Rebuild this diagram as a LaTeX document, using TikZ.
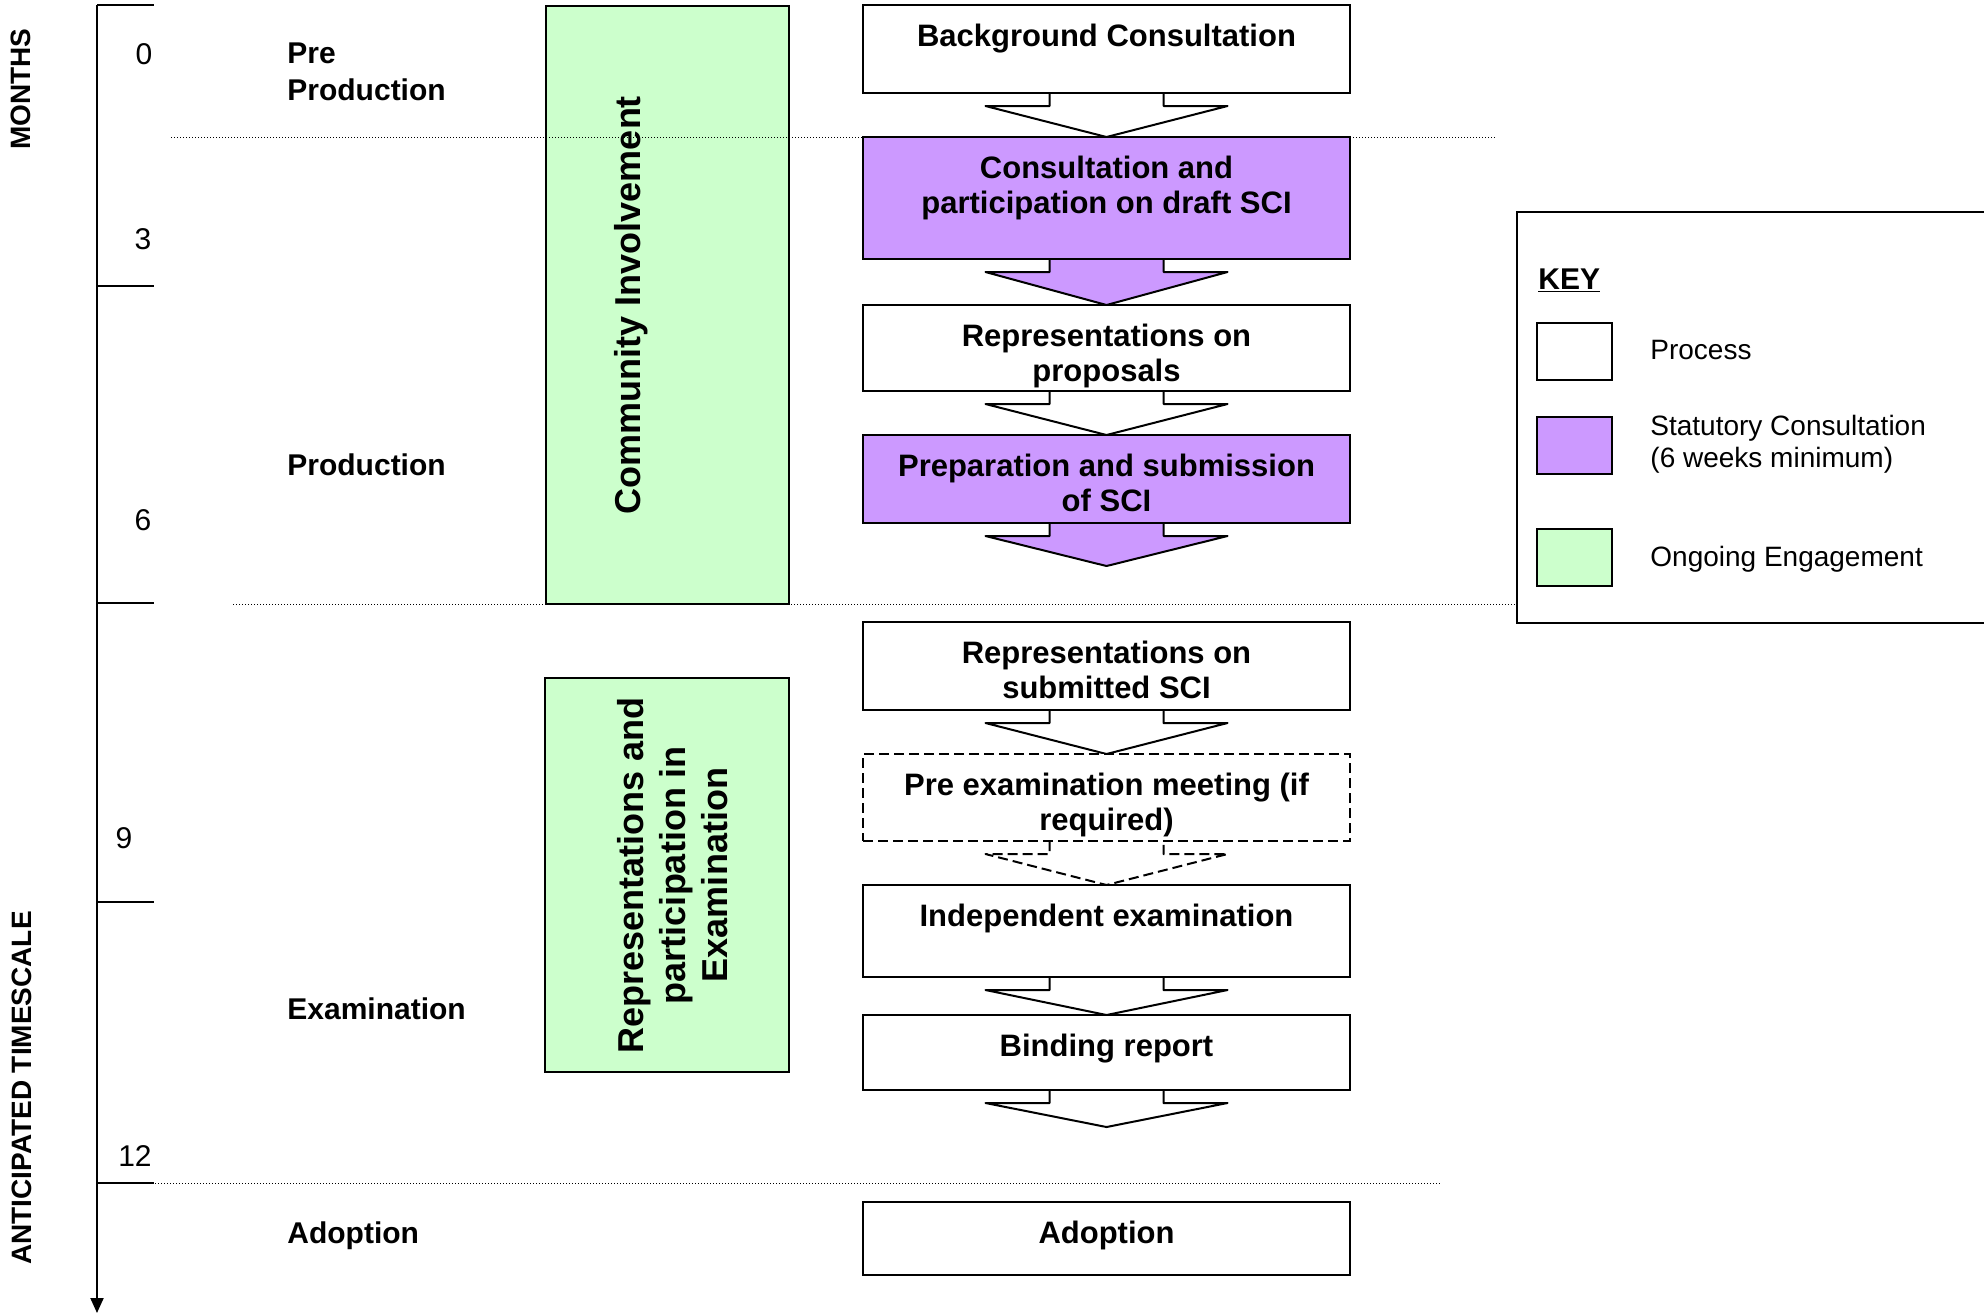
\documentclass[tikz,border=0pt]{standalone}
\usepackage{fontspec}
\setmainfont{Liberation Sans}
\usepackage{tikz}
\usetikzlibrary{positioning, calc, arrows.meta, backgrounds}
\definecolor{statpurple}{HTML}{CC99FF}
\definecolor{engreen}{HTML}{CCFFCC}
\tikzset{
	>={Triangle[width=6.5pt,length=7.5pt]}, % punta del eje de tiempo
	stage/.style={draw, line width=1pt, fill=white, minimum width=243.5pt, inner sep=0pt, outer sep=0pt}, % cajas del proceso
	stagetext/.style={anchor=north, inner sep=0pt, align=center, font=\fontsize{15.5}{17.5}\selectfont\bfseries}, % texto de las cajas
	arrowshape/.style={draw, line width=1pt, fill=white, line join=round}, % flechas gruesas entre cajas
	dashedstage/.style={dash pattern=on 5pt off 2.5pt}, % caja opcional
	engage/.style={draw, line width=1pt, fill=engreen, inner sep=0pt}, % participacion continua
	engtext/.style={rotate=90, inner sep=0pt, align=center, font=\fontsize{18}{21}\selectfont\bfseries},
	phase/.style={anchor=base west, inner sep=0pt, align=left, font=\fontsize{15}{18.5}\selectfont\bfseries}, % etapas
	month/.style={inner sep=0pt, font=\fontsize{15}{18}\selectfont}, % meses
	axistext/.style={rotate=90, inner sep=0pt, font=\fontsize{14}{16}\selectfont\bfseries},
	axisline/.style={line width=1pt},
	sepline/.style={line width=0.5pt, dash pattern=on 0.5pt off 1pt}, % lineas punteadas
	keyswatch/.style={draw, line width=1pt, fill=white, minimum width=37.5pt, minimum height=28.5pt, inner sep=0pt},
	keytext/.style={anchor=west, inner sep=0pt, align=left, font=\fontsize{14}{16}\selectfont}
}
\newcommand{\stagearrow}[3][]{%
	\begin{pgfonlayer}{background}
	\path[arrowshape, #1] ($(#2.south)+(-57,0)$) -- ++(0,13) -- ++(-64,0) -- (#3)
		-- ($(#2.south)+(121,13)$) -- ++(-64,0) -- ++(0,-13);
	\end{pgfonlayer}}

\begin{document}
\begin{tikzpicture}[x=0.5pt, y=-0.5pt]
	\useasboundingbox (0,0) rectangle (1984,1314);
	\node[engage, minimum width=121.5pt, minimum height=299pt] (community) at (667.5,305) {};
	\node[engtext] (community-t) at (631,305) {Community Involvement};
	\node[engage, minimum width=122pt, minimum height=197pt] (repexam) at (667,875) {};
	\node[engtext] (repexam-t) at (673,875) {Representations and\\participation in\\Examination};

	\draw[sepline] (171,137) -- (1497,137);
	\draw[sepline] (233,604) -- (1518,604);
	\draw[sepline] (155,1183) -- (1442,1183);

	\draw[axisline, ->] (97,5) -- (97,1313);
	\draw[axisline] (97,5) -- (154,5) (97,286) -- (154,286) (97,603) -- (154,603)
		(97,902) -- (154,902) (97,1183) -- (154,1183);
	\node[month] (m0) at (144,54) {0};
	\node[month] (m3) at (143,239) {3};
	\node[month] (m6) at (143,520) {6};
	\node[month] (m9) at (124,838) {9};
	\node[month] (m12) at (135,1156) {12};
	\node[axistext] (months) at (21,89) {MONTHS};
	\node[axistext] (timescale) at (22,1088) {ANTICIPATED TIMESCALE};

	\node[phase, anchor=north west] (ph-pre) at (287,42) {Pre\\Production};
	\node[phase] (ph-prod) at (287,475) {Production};
	\node[phase] (ph-exam) at (287,1019) {Examination};
	\node[phase] (ph-adopt) at (287,1243) {Adoption};

	\node[stage, minimum height=44pt, anchor=north] (bg) at (1106.5,5) {};
	\node[stage, fill=statpurple, minimum height=61pt, below=22pt of bg] (cons) {};
	\node[stage, minimum height=43pt, below=23pt of cons] (repprop) {};
	\node[stage, fill=statpurple, minimum height=44pt, below=22pt of repprop] (prep) {};
	\node[stage, minimum height=44pt, below=49.5pt of prep] (repsub) {};
	\node[stage, dashedstage, minimum height=43.5pt, below=22pt of repsub] (preexam) {};
	\node[stage, minimum height=46pt, below=22pt of preexam] (indep) {};
	\node[stage, minimum height=37.5pt, below=19pt of indep] (bind) {};
	\node[stage, minimum height=36.5pt, below=56pt of bind] (adopt) {};

	\node[stagetext] (bg-t) at ($(bg.north)+(0,19)$) {Background Consultation};
	\node[stagetext] (cons-t) at ($(cons.north)+(0,19)$) {Consultation and\\participation on draft SCI};
	\node[stagetext] (repprop-t) at ($(repprop.north)+(0,19)$) {Representations on\\proposals};
	\node[stagetext] (prep-t) at ($(prep.north)+(0,19)$) {Preparation and submission\\of SCI};
	\node[stagetext] (repsub-t) at ($(repsub.north)+(0,19)$) {Representations on\\submitted SCI};
	\node[stagetext] (preexam-t) at ($(preexam.north)+(0,19)$) {Pre examination meeting (if\\required)};
	\node[stagetext] (indep-t) at ($(indep.north)+(0,19)$) {Independent examination};
	\node[stagetext] (bind-t) at ($(bind.north)+(0,19)$) {Binding report};
	\node[stagetext] (adopt-t) at ($(adopt.north)+(0,19)$) {Adoption};

	\coordinate (prep-end) at ($(prep.south)+(0,43)$);
	\coordinate (bind-end) at ($(bind.south)+(0,37)$);
	\stagearrow{bg}{cons.north}
	\stagearrow[fill=statpurple]{cons}{repprop.north}
	\stagearrow{repprop}{prep.north}
	\stagearrow[fill=statpurple]{prep}{prep-end}
	\stagearrow{repsub}{preexam.north}
	\stagearrow[dashedstage]{preexam}{indep.north}
	\stagearrow{indep}{bind.north}
	\stagearrow{bind}{bind-end}

	\draw[line width=1.2pt] (1517,212) rectangle (2000,623);
	\node[anchor=base west, inner sep=0pt, font=\fontsize{15}{18}\selectfont\bfseries] (key-t) at (1538,289) {\underline{KEY}};
	\node[keyswatch] (key-proc) at (1574.5,351.5) {};
	\node[keyswatch, fill=statpurple] (key-stat) at (1574.5,445) {};
	\node[keyswatch, fill=engreen] (key-eng) at (1574.5,557.5) {};
	\node[keytext] (key-proc-t) at (1650,350) {Process};
	\node[keytext] (key-stat-t) at (1650,444) {Statutory Consultation\\(6 weeks minimum)};
	\node[keytext] (key-eng-t) at (1650,559) {Ongoing Engagement};
\end{tikzpicture}
\end{document}
